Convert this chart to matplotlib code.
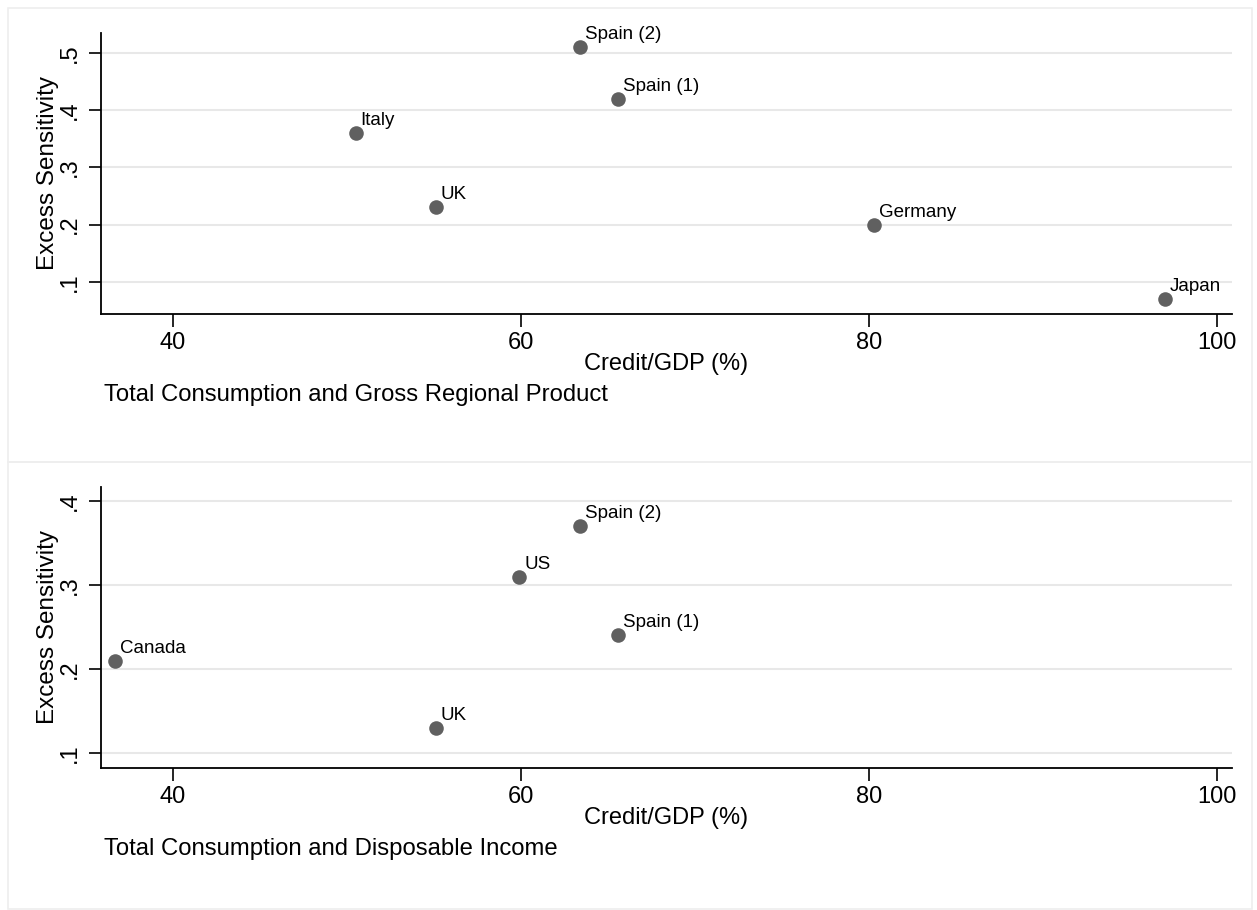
import matplotlib.pyplot as plt
from matplotlib.patches import Rectangle

plt.rcParams['font.family'] = ['Liberation Sans', 'DejaVu Sans']

# Panel 1: Total Consumption and Gross Regional Product
top_names = ['Spain (2)', 'Spain (1)', 'Italy', 'UK', 'Germany', 'Japan']
top_credit = [63.4, 65.6, 50.5, 55.1, 80.3, 97.0]
top_excess = [0.51, 0.42, 0.36, 0.23, 0.20, 0.07]

# Panel 2: Total Consumption and Disposable Income
bot_names = ['Spain (2)', 'US', 'Spain (1)', 'Canada', 'UK']
bot_credit = [63.4, 59.9, 65.6, 36.7, 55.1]
bot_excess = [0.37, 0.31, 0.24, 0.21, 0.13]

x_ticks = [40, 60, 80, 100]
top_yticks = [0.1, 0.2, 0.3, 0.4, 0.5]
bot_yticks = [0.1, 0.2, 0.3, 0.4]

W, H = 1257, 910
fig = plt.figure(figsize=(W / 100, H / 100), dpi=100)
fig.patch.set_facecolor('white')

# light panel frames like a combined Stata graph
for y0, y1 in [(8, 462), (462, 909)]:
    fig.patches.append(Rectangle((8 / W, 1 - y1 / H), (1252 - 8) / W, (y1 - y0) / H,
                                 transform=fig.transFigure, fill=False,
                                 edgecolor='#eeeeee', lw=1.2))


def panel(rect, names, xs, ys, yticks, ylim, subtitle, sub_y):
    ax = fig.add_axes(rect)
    ax.scatter(xs, ys, s=110, color='#606060', zorder=3, linewidths=0)
    for name, x, y in zip(names, xs, ys):
        ax.annotate(name, (x, y), xytext=(5, 8), textcoords='offset pixels',
                    fontsize=13.5, ha='left', va='baseline', color='black')
    ax.set_xlim(35.86, 100.86)
    ax.set_ylim(*ylim)
    ax.set_xticks(x_ticks)
    ax.set_yticks(yticks)
    ax.set_yticklabels(['.' + str(int(round(t * 10))) for t in yticks],
                       rotation=90, va='center')
    ax.tick_params(axis='both', labelsize=17, length=9, width=1.2, color='black')
    ax.tick_params(axis='x', pad=4)
    ax.tick_params(axis='y', pad=5)
    ax.grid(axis='y', color='#e8e8e8', lw=1.5)
    ax.set_axisbelow(True)
    for side in ['top', 'right']:
        ax.spines[side].set_visible(False)
    for side in ['left', 'bottom']:
        ax.spines[side].set_linewidth(1.3)
    ax.set_xlabel('Credit/GDP (%)', fontsize=17)
    ax.xaxis.set_label_coords(0.5, -0.178)
    ax.xaxis.label.set_va('center')
    ax.set_ylabel('Excess Sensitivity', fontsize=17.5)
    ax.yaxis.set_label_coords(-0.047, 0.5)
    ax.yaxis.label.set_va('center')
    fig.text(104 / W, sub_y, subtitle, fontsize=17.2, ha='left', va='center')
    return ax


panel([100.7 / W, 1 - 314 / H, (1232 - 100.7) / W, (314 - 32.7) / H],
      top_names, top_credit, top_excess, top_yticks, (0.044, 0.535),
      'Total Consumption and Gross Regional Product', 1 - 395 / H)

panel([100.7 / W, 1 - 768.3 / H, (1232 - 100.7) / W, (768.3 - 486.7) / H],
      bot_names, bot_credit, bot_excess, bot_yticks, (0.0818, 0.417),
      'Total Consumption and Disposable Income', 1 - 849 / H)

fig.savefig('out.png', dpi=100)
